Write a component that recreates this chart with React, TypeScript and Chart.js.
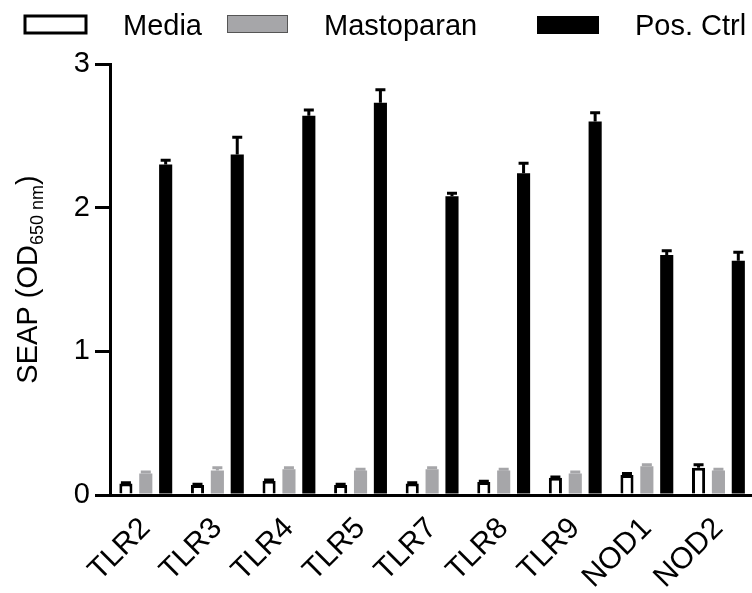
import { useEffect, useRef } from 'react';
import { Chart, registerables } from 'chart.js';

Chart.register(...registerables);

const categories = ['TLR2', 'TLR3', 'TLR4', 'TLR5', 'TLR7', 'TLR8', 'TLR9', 'NOD1', 'NOD2'];
const seriesLabels = ['Media', 'Mastoparan', 'Pos. Ctrl'];
const mediaValues = [0.08, 0.07, 0.1, 0.07, 0.08, 0.09, 0.12, 0.14, 0.19];
const mediaErrors = [0.005, 0.005, 0.005, 0.005, 0.005, 0.005, 0.005, 0.01, 0.02];
const mastoparanValues = [0.15, 0.17, 0.18, 0.17, 0.18, 0.17, 0.15, 0.2, 0.17];
const mastoparanErrors = [0.01, 0.02, 0.01, 0.01, 0.01, 0.01, 0.01, 0.01, 0.01];
const posCtrlValues = [2.3, 2.37, 2.64, 2.73, 2.08, 2.24, 2.6, 1.67, 1.63];
const posCtrlErrors = [0.03, 0.12, 0.04, 0.09, 0.02, 0.07, 0.06, 0.03, 0.06];
const yTicks = [0, 1, 2, 3];

const FONT = "'Liberation Sans', Arial, Helvetica, sans-serif";
const GRAY = '#a6a6a9';

const errorBarPlugin = {
  id: 'errorBars',
  afterDatasetsDraw(chart: any) {
    const ctx = chart.ctx;
    const yScale = chart.scales.y;
    chart.data.datasets.forEach((ds: any, i: number) => {
      const meta = chart.getDatasetMeta(i);
      const errs: number[] = ds.errors || [];
      ctx.save();
      ctx.strokeStyle = ds.errorColor;
      ctx.lineWidth = 3;
      meta.data.forEach((el: any, j: number) => {
        const v = ds.data[j];
        const e = errs[j] || 0;
        const x = el.x;
        const y0 = yScale.getPixelForValue(v);
        const y1 = yScale.getPixelForValue(v + e);
        ctx.beginPath();
        ctx.moveTo(x, y0);
        ctx.lineTo(x, y1);
        ctx.moveTo(x - 5, y1);
        ctx.lineTo(x + 5, y1);
        ctx.stroke();
      });
      ctx.restore();
    });
  },
};

const legendPlugin = {
  id: 'customLegend',
  afterDraw(chart: any) {
    const ctx = chart.ctx;
    const boxes = [
      { x: 25, y: 16, w: 61, h: 17, text: 123 },
      { x: 227, y: 15, w: 61, h: 18, text: 324 },
      { x: 537, y: 16, w: 62, h: 18, text: 635 },
    ];
    ctx.save();
    chart.data.datasets.forEach((ds: any, i: number) => {
      const b = boxes[i];
      if (!b) return;
      if (i === 0) {
        ctx.fillStyle = '#ffffff';
        ctx.fillRect(b.x, b.y, b.w, b.h);
        ctx.strokeStyle = '#000';
        ctx.lineWidth = 3;
        ctx.strokeRect(b.x, b.y, b.w, b.h);
      } else if (i === 1) {
        ctx.fillStyle = GRAY;
        ctx.fillRect(b.x, b.y, b.w, b.h);
        ctx.strokeStyle = '#555';
        ctx.lineWidth = 1;
        ctx.strokeRect(b.x + 0.5, b.y + 0.5, b.w - 1, b.h - 1);
      } else {
        ctx.fillStyle = '#000';
        ctx.fillRect(b.x, b.y, b.w, b.h);
      }
      ctx.fillStyle = '#000';
      ctx.font = `29px ${FONT}`;
      ctx.textBaseline = 'alphabetic';
      ctx.textAlign = 'left';
      ctx.fillText(ds.label, b.text, 35);
    });
    ctx.restore();
  },
};

const yTitlePlugin = {
  id: 'yTitle',
  afterDraw(chart: any) {
    const ctx = chart.ctx;
    const area = chart.chartArea;
    const cy = (area.top + area.bottom) / 2;
    const parts = [
      { t: 'SEAP (OD', size: 29, dy: 0 },
      { t: '650 nm', size: 18, dy: 6 },
      { t: ')', size: 29, dy: 0 },
    ];
    ctx.save();
    let total = 0;
    const widths = parts.map((p) => {
      ctx.font = `${p.size}px ${FONT}`;
      const w = ctx.measureText(p.t).width;
      total += w;
      return w;
    });
    ctx.translate(37, cy);
    ctx.rotate(-Math.PI / 2);
    ctx.fillStyle = '#000';
    ctx.textBaseline = 'alphabetic';
    ctx.textAlign = 'left';
    let x = -total / 2;
    parts.forEach((p, i) => {
      ctx.font = `${p.size}px ${FONT}`;
      ctx.fillText(p.t, x, p.dy);
      x += widths[i];
    });
    ctx.restore();
  },
};

export default function App() {
  const canvasRef = useRef<HTMLCanvasElement | null>(null);

  useEffect(() => {
    if (!canvasRef.current) return;
    const chart = new Chart(canvasRef.current, {
      type: 'bar',
      data: {
        labels: categories,
        datasets: [
          {
            label: seriesLabels[0],
            data: mediaValues,
            errors: mediaErrors,
            errorColor: '#000',
            backgroundColor: '#ffffff',
            borderColor: '#000',
            borderWidth: 3,
            borderSkipped: 'bottom',
          } as any,
          {
            label: seriesLabels[1],
            data: mastoparanValues,
            errors: mastoparanErrors,
            errorColor: GRAY,
            backgroundColor: GRAY,
            borderWidth: 0,
          } as any,
          {
            label: seriesLabels[2],
            data: posCtrlValues,
            errors: posCtrlErrors,
            errorColor: '#000',
            backgroundColor: '#000',
            borderWidth: 0,
          } as any,
        ],
      },
      options: {
        responsive: false,
        animation: false,
        devicePixelRatio: 1,
        layout: { padding: { top: 64, left: 0, right: 2, bottom: 0 } },
        datasets: {
          bar: {
            categoryPercentage: 0.833,
            barPercentage: 0.66,
          },
        },
        plugins: {
          legend: { display: false },
          tooltip: { enabled: false },
          title: { display: false },
        },
        scales: {
          x: {
            afterFit: (s: any) => {
              s.height = 98;
            },
            grid: { display: true, drawOnChartArea: false, drawTicks: false },
            border: { display: true, color: '#000', width: 3 },
            ticks: {
              color: '#000',
              font: { size: 30, family: FONT },
              minRotation: 45,
              maxRotation: 45,
              padding: 16,
              autoSkip: false,
            },
          },
          y: {
            min: 0,
            max: 3,
            afterFit: (s: any) => {
              s.width = 110;
            },
            afterBuildTicks: (s: any) => {
              s.ticks = yTicks.map((v) => ({ value: v }));
            },
            grid: {
              display: true,
              drawOnChartArea: false,
              drawTicks: true,
              tickLength: 15,
              lineWidth: 3,
              color: '#000',
            },
            border: { display: true, color: '#000', width: 3 },
            ticks: {
              color: '#000',
              font: { size: 29, family: FONT },
              padding: 5,
            },
          },
        },
      },
      plugins: [errorBarPlugin, legendPlugin, yTitlePlugin],
    });
    return () => chart.destroy();
  }, []);

  return (
    <div
      style={{
        position: 'absolute',
        left: 0,
        top: 0,
        width: 752,
        height: 593,
        overflow: 'hidden',
        background: '#fff',
      }}
    >
      <canvas ref={canvasRef} width={760} height={593} style={{ display: 'block' }} />
    </div>
  );
}
